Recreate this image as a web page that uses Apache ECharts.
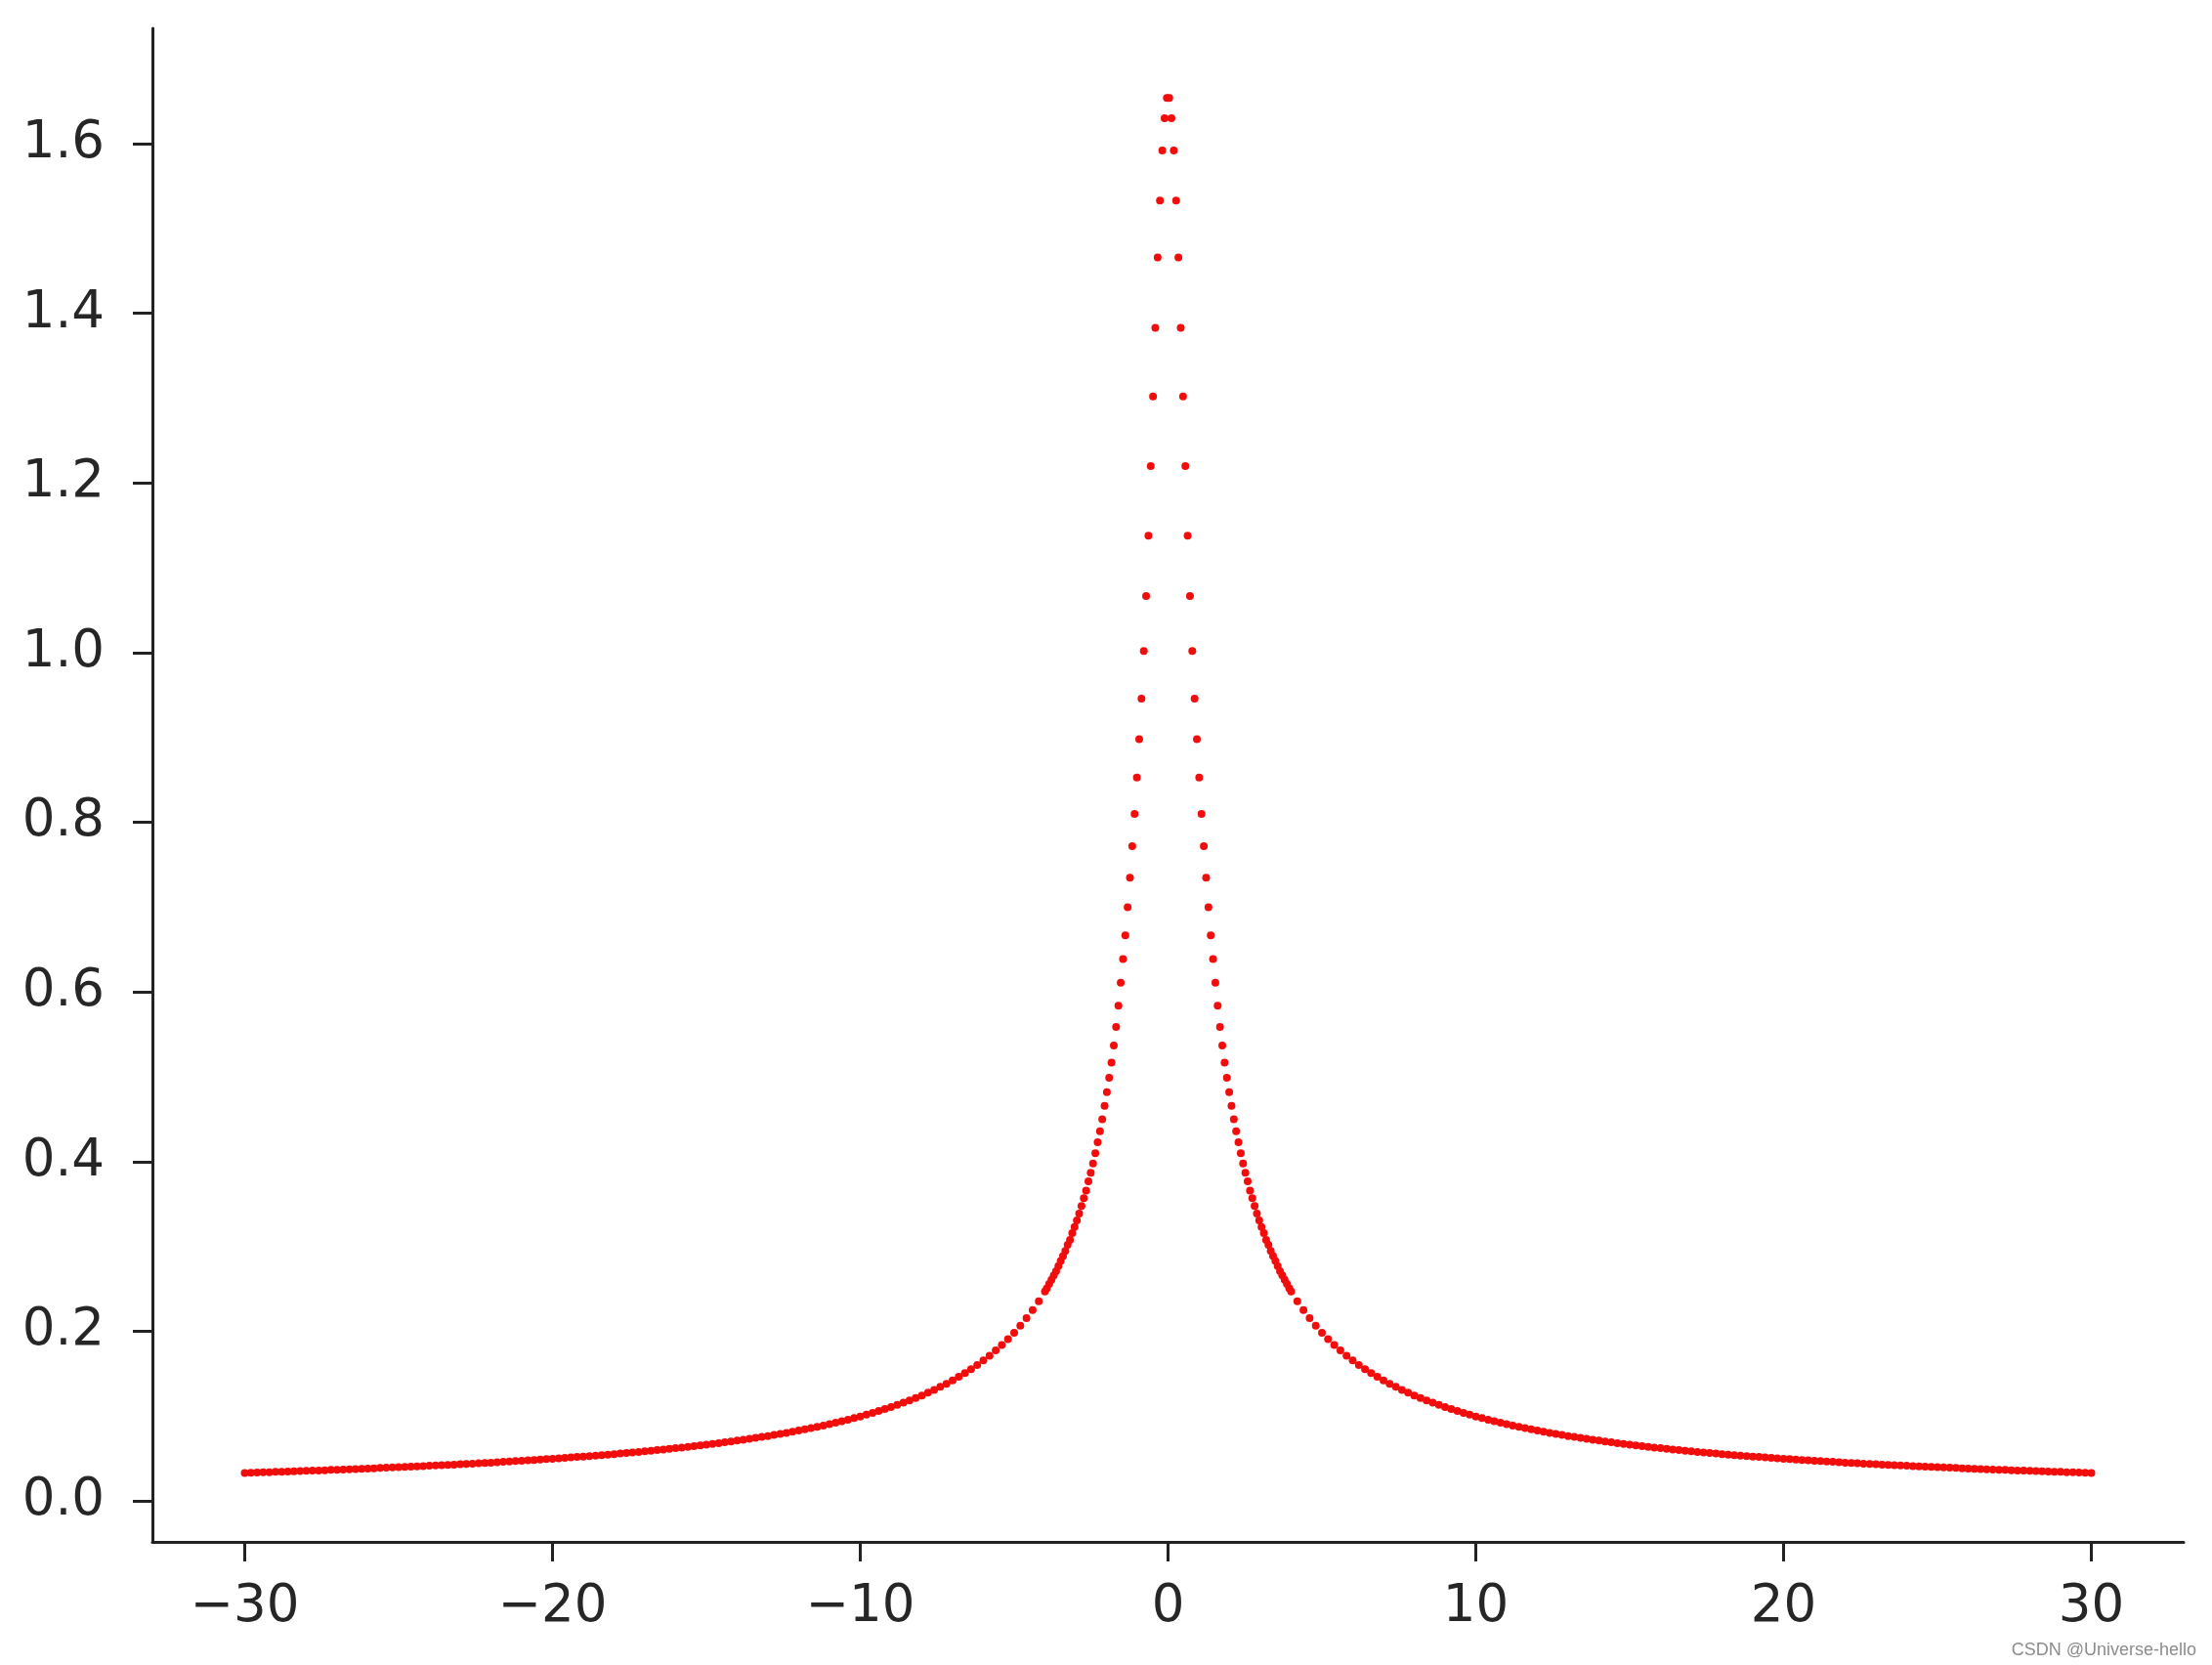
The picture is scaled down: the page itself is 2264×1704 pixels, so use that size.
<!DOCTYPE html>
<html>
<head>
<meta charset="utf-8">
<script src="https://cdn.jsdelivr.net/npm/echarts@6/dist/echarts.min.js"></script>
<style>
html,body{margin:0;padding:0;background:#fff;}
#chart{width:2264px;height:1704px;}
</style>
</head>
<body>
<div id="chart"></div>
<script>
// ---- data ----
const xTicks = [-30, -20, -10, 0, 10, 20, 30];
const yTicks = [0, 0.2, 0.4, 0.6, 0.8, 1.0, 1.2, 1.4, 1.6];

// central (sparse) part, right side
const peakXRight = [
  0.0375,0.1125,0.1875,0.2625,0.3375,0.4125,0.4875,0.5625,0.6375,0.7125,
  0.7875,0.8625,0.9375,1.0125,1.0875,1.1625,1.2375,1.3125,1.3875,1.4625,
  1.5375,1.6125,1.6875,1.7625,1.8375,1.9125,1.9875,2.0625,2.1375,2.2125,
  2.2875,2.3625,2.4375,2.5125,2.5875,2.6625,2.7375,2.8125,2.8875,2.9625,
  3.0375,3.1125,3.1875,3.2625,3.3375,3.4125,3.4875,3.5625,3.6375,3.7125,
  3.7875,3.8625,3.9375
];
// central part, left side
const peakXLeft = [
  -0.0375,-0.1125,-0.1875,-0.2625,-0.3375,-0.4125,-0.4875,-0.5625,-0.6375,-0.7125,
  -0.7875,-0.8625,-0.9375,-1.0125,-1.0875,-1.1625,-1.2375,-1.3125,-1.3875,-1.4625,
  -1.5375,-1.6125,-1.6875,-1.7625,-1.8375,-1.9125,-1.9875,-2.0625,-2.1375,-2.2125,
  -2.2875,-2.3625,-2.4375,-2.5125,-2.5875,-2.6625,-2.7375,-2.8125,-2.8875,-2.9625,
  -3.0375,-3.1125,-3.1875,-3.2625,-3.3375,-3.4125,-3.4875,-3.5625,-3.6375,-3.7125,
  -3.7875,-3.8625,-3.9375
];
// heights of the central points (same on both sides)
const peakY = [
  1.654,1.630,1.592,1.533,1.466,1.383,1.302,1.220,1.138,1.067,
  1.002,0.946,0.898,0.853,0.810,0.772,0.735,0.700,0.667,0.639,
  0.611,0.584,0.559,0.537,0.517,0.499,0.482,0.466,0.450,0.436,
  0.423,0.410,0.398,0.387,0.377,0.366,0.357,0.348,0.339,0.331,
  0.323,0.316,0.308,0.302,0.295,0.289,0.283,0.277,0.271,0.266,
  0.261,0.256,0.251
];

// tails (dense part), right side
const tailXRight = [
  4.0,4.2,4.4,4.6,4.8,5.0,5.2,5.4,5.6,5.8,
  6.0,6.2,6.4,6.6,6.8,7.0,7.2,7.4,7.6,7.8,
  8.0,8.2,8.4,8.6,8.8,9.0,9.2,9.4,9.6,9.8,
  10.0,10.2,10.4,10.6,10.8,11.0,11.2,11.4,11.6,11.8,
  12.0,12.2,12.4,12.6,12.8,13.0,13.2,13.4,13.6,13.8,
  14.0,14.2,14.4,14.6,14.8,15.0,15.2,15.4,15.6,15.8,
  16.0,16.2,16.4,16.6,16.8,17.0,17.2,17.4,17.6,17.8,
  18.0,18.2,18.4,18.6,18.8,19.0,19.2,19.4,19.6,19.8,
  20.0,20.2,20.4,20.6,20.8,21.0,21.2,21.4,21.6,21.8,
  22.0,22.2,22.4,22.6,22.8,23.0,23.2,23.4,23.6,23.8,
  24.0,24.2,24.4,24.6,24.8,25.0,25.2,25.4,25.6,25.8,
  26.0,26.2,26.4,26.6,26.8,27.0,27.2,27.4,27.6,27.8,
  28.0,28.2,28.4,28.6,28.8,29.0,29.2,29.4,29.6,29.8,
  30.0
];
// tails, left side
const tailXLeft = [
  -4.0,-4.2,-4.4,-4.6,-4.8,-5.0,-5.2,-5.4,-5.6,-5.8,
  -6.0,-6.2,-6.4,-6.6,-6.8,-7.0,-7.2,-7.4,-7.6,-7.8,
  -8.0,-8.2,-8.4,-8.6,-8.8,-9.0,-9.2,-9.4,-9.6,-9.8,
  -10.0,-10.2,-10.4,-10.6,-10.8,-11.0,-11.2,-11.4,-11.6,-11.8,
  -12.0,-12.2,-12.4,-12.6,-12.8,-13.0,-13.2,-13.4,-13.6,-13.8,
  -14.0,-14.2,-14.4,-14.6,-14.8,-15.0,-15.2,-15.4,-15.6,-15.8,
  -16.0,-16.2,-16.4,-16.6,-16.8,-17.0,-17.2,-17.4,-17.6,-17.8,
  -18.0,-18.2,-18.4,-18.6,-18.8,-19.0,-19.2,-19.4,-19.6,-19.8,
  -20.0,-20.2,-20.4,-20.6,-20.8,-21.0,-21.2,-21.4,-21.6,-21.8,
  -22.0,-22.2,-22.4,-22.6,-22.8,-23.0,-23.2,-23.4,-23.6,-23.8,
  -24.0,-24.2,-24.4,-24.6,-24.8,-25.0,-25.2,-25.4,-25.6,-25.8,
  -26.0,-26.2,-26.4,-26.6,-26.8,-27.0,-27.2,-27.4,-27.6,-27.8,
  -28.0,-28.2,-28.4,-28.6,-28.8,-29.0,-29.2,-29.4,-29.6,-29.8,
  -30.0
];
// tail heights (same on both sides)
const tailY = [
  0.2472,0.2357,0.2252,0.2156,0.2067,0.1986,0.1910,0.1841,0.1776,0.1715,
  0.1658,0.1605,0.1556,0.1509,0.1465,0.1423,0.1384,0.1347,0.1312,0.1278,
  0.1246,0.1216,0.1187,0.1160,0.1134,0.1109,0.1085,0.1062,0.1040,0.1019,
  0.0998,0.0979,0.0960,0.0942,0.0924,0.0908,0.0891,0.0876,0.0861,0.0846,
  0.0832,0.0819,0.0805,0.0793,0.0780,0.0768,0.0757,0.0746,0.0735,0.0724,
  0.0714,0.0704,0.0694,0.0684,0.0675,0.0666,0.0657,0.0649,0.0640,0.0632,
  0.0625,0.0617,0.0609,0.0602,0.0595,0.0588,0.0581,0.0574,0.0568,0.0562,
  0.0555,0.0549,0.0543,0.0537,0.0532,0.0526,0.0521,0.0515,0.0510,0.0505,
  0.0500,0.0495,0.0490,0.0485,0.0481,0.0476,0.0472,0.0467,0.0463,0.0459,
  0.0454,0.0450,0.0446,0.0442,0.0439,0.0435,0.0431,0.0427,0.0424,0.0420,
  0.0417,0.0413,0.0410,0.0406,0.0403,0.0400,0.0397,0.0394,0.0391,0.0388,
  0.0385,0.0382,0.0379,0.0376,0.0373,0.0370,0.0368,0.0365,0.0362,0.0360,
  0.0357,0.0355,0.0352,0.0350,0.0347,0.0345,0.0342,0.0340,0.0338,0.0336,
  0.0333
];

// ---- build points ----
function pairs(xs, ys) {
  const n = Math.min(xs.length, ys.length);
  const out = [];
  for (let i = 0; i < n; i++) out.push([xs[i], ys[i]]);
  return out;
}
const points = [].concat(
  pairs(tailXLeft, tailY),
  pairs(peakXLeft, peakY),
  pairs(peakXRight, peakY),
  pairs(tailXRight, tailY)
);

const axisColor = '#222222';
const labelFont = {
  fontFamily: 'DejaVu Sans',
  fontSize: 53,
  color: '#262626'
};
function fmtX(v) { return v < 0 ? '\u2212' + Math.abs(v) : String(v); }

const chart = echarts.init(document.getElementById('chart'), null, {renderer: 'canvas'});
chart.setOption({
  animation: false,
  backgroundColor: '#ffffff',
  grid: {left: 156, right: 29, top: 29, bottom: 126, containLabel: false},
  xAxis: {
    type: 'value',
    min: -33,
    max: 33,
    axisLine: {show: true, onZero: false, lineStyle: {color: axisColor, width: 3}},
    axisTick: {show: true, length: 20, lineStyle: {color: axisColor, width: 3}, customValues: xTicks},
    axisLabel: Object.assign({margin: 41, customValues: xTicks, formatter: fmtX}, labelFont),
    splitLine: {show: false}
  },
  yAxis: {
    type: 'value',
    min: -0.048,
    max: 1.736,
    axisLine: {show: true, onZero: false, lineStyle: {color: axisColor, width: 3}},
    axisTick: {show: true, length: 20, lineStyle: {color: axisColor, width: 3}, customValues: yTicks},
    axisLabel: Object.assign({margin: 49, customValues: yTicks, formatter: function (v) { return Number(v).toFixed(1); }}, labelFont),
    splitLine: {show: false}
  },
  graphic: [{
    type: 'text',
    right: 16,
    bottom: 6,
    style: {text: 'CSDN @Universe-hello', fill: '#8c8c8c', font: '18px "Liberation Sans", Arial, sans-serif'}
  }],
  series: [{
    type: 'scatter',
    data: points,
    symbol: 'circle',
    symbolSize: 8,
    itemStyle: {color: '#f20d0d', opacity: 1},
    silent: true
  }]
});
</script>
</body>
</html>
